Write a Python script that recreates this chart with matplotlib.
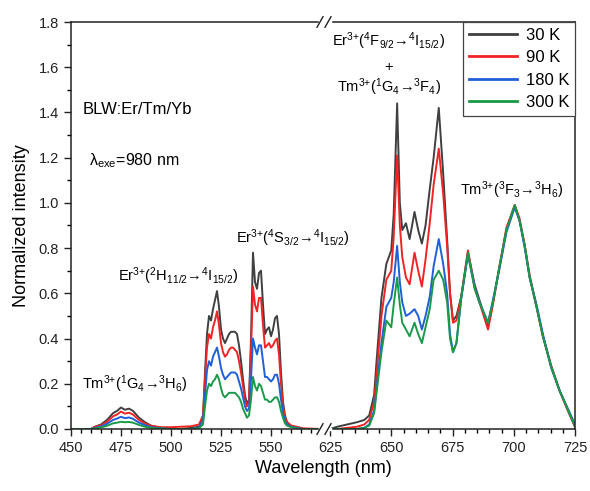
import numpy as np
import matplotlib
matplotlib.use("Agg")
import matplotlib.pyplot as plt
from matplotlib.ticker import FixedLocator, FormatStrFormatter

plt.rcParams["font.family"] = ["Liberation Sans", "DejaVu Sans"]
plt.rcParams["mathtext.fontset"] = "custom"
plt.rcParams["mathtext.rm"] = "Liberation Sans"
plt.rcParams["mathtext.it"] = "Liberation Sans:italic"

# upconversion emission, normalised to the 700 nm band
wl = [450, 460, 462, 465, 468, 471, 473, 475, 477, 479, 481, 484, 487, 490, 495, 500,
      505, 510, 514, 516, 517, 518, 519, 520, 521, 522, 523, 524, 525, 526, 527, 528,
      529, 530, 531, 532, 533, 534, 535, 536, 537, 538, 539, 540, 541, 542, 543, 544,
      545, 546, 547, 548, 549, 550, 551, 552, 553, 554, 555, 556, 557, 558, 560, 563,
      566, 575, 600, 625, 628, 632, 636, 639, 641, 643, 644, 646, 648, 650, 651, 652.4,
      653.5, 654.5, 656, 657.5, 659.5, 661, 662.5, 664, 665.7, 667.3, 669.4, 671.2,
      672.8, 674, 675.2, 676.6, 678.6, 681.3, 684, 686, 689.5, 691.5, 694.2, 697,
      700.4, 702.4, 704.5, 706.5, 709.3, 711.9, 715.3, 718.7, 722.1, 725]

k30 = [0, 0, 0.01, 0.02, 0.04, 0.07, 0.08, 0.095, 0.085, 0.09, 0.08, 0.05, 0.03, 0.015, 0.005, 0,
       0, 0.005, 0.01, 0.05, 0.25, 0.42, 0.50, 0.48, 0.53, 0.57, 0.61, 0.54, 0.44, 0.40, 0.38, 0.40,
       0.42, 0.43, 0.43, 0.43, 0.42, 0.37, 0.30, 0.22, 0.15, 0.11, 0.13, 0.40, 0.78, 0.65, 0.62, 0.69,
       0.70, 0.55, 0.42, 0.44, 0.45, 0.41, 0.44, 0.49, 0.50, 0.42, 0.25, 0.12, 0.06, 0.03, 0.015, 0.005,
       0, 0, 0, 0, 0.01, 0.02, 0.03, 0.04, 0.06, 0.15, 0.30, 0.58, 0.73, 0.79, 0.95, 1.44,
       1.00, 0.88, 0.91, 0.84, 0.96, 0.88, 0.82, 0.90, 1.06, 1.20, 1.42, 1.13,
       0.84, 0.60, 0.48, 0.50, 0.585, 0.78, 0.64, 0.57, 0.45, 0.56, 0.72, 0.88,
       0.99, 0.92, 0.81, 0.67, 0.54, 0.41, 0.275, 0.17, 0.085, 0.01]

k90 = [0, 0, 0.01, 0.016, 0.032, 0.056, 0.064, 0.077, 0.068, 0.072, 0.064, 0.04, 0.024, 0.014, 0.008, 0.008,
       0.01, 0.012, 0.02, 0.06, 0.22, 0.36, 0.42, 0.40, 0.45, 0.48, 0.52, 0.46, 0.38, 0.34, 0.32, 0.33,
       0.35, 0.36, 0.36, 0.35, 0.34, 0.30, 0.25, 0.19, 0.13, 0.10, 0.12, 0.35, 0.63, 0.55, 0.52, 0.58,
       0.58, 0.46, 0.36, 0.37, 0.38, 0.36, 0.37, 0.39, 0.40, 0.33, 0.20, 0.10, 0.05, 0.03, 0.015, 0.01,
       0.003, 0, 0, 0, 0, 0.005, 0.01, 0.02, 0.04, 0.12, 0.24, 0.50, 0.66, 0.70, 0.85, 1.21,
       0.90, 0.76, 0.67, 0.64, 0.78, 0.70, 0.63, 0.75, 0.91, 1.08, 1.24, 1.04,
       0.81, 0.60, 0.47, 0.48, 0.59, 0.79, 0.63, 0.56, 0.44, 0.55, 0.72, 0.89,
       0.99, 0.93, 0.81, 0.68, 0.54, 0.41, 0.28, 0.17, 0.08, 0.01]

k180 = [0, 0, 0.005, 0.011, 0.023, 0.04, 0.046, 0.054, 0.048, 0.051, 0.045, 0.028, 0.017, 0.008, 0.003, 0,
        0, 0, 0.005, 0.04, 0.15, 0.26, 0.30, 0.28, 0.32, 0.34, 0.36, 0.32, 0.27, 0.24, 0.22, 0.23,
        0.24, 0.25, 0.25, 0.25, 0.24, 0.21, 0.18, 0.14, 0.10, 0.08, 0.09, 0.22, 0.40, 0.36, 0.33, 0.37,
        0.37, 0.30, 0.23, 0.23, 0.22, 0.21, 0.22, 0.24, 0.24, 0.20, 0.13, 0.07, 0.035, 0.02, 0.01, 0.005,
        0, 0, 0, 0, 0, 0, 0, 0.005, 0.02, 0.08, 0.18, 0.38, 0.54, 0.58, 0.65, 0.81,
        0.65, 0.56, 0.50, 0.51, 0.53, 0.50, 0.44, 0.50, 0.585, 0.72, 0.84, 0.73,
        0.60, 0.42, 0.34, 0.38, 0.58, 0.77, 0.63, 0.56, 0.47, 0.57, 0.71, 0.87,
        0.98, 0.92, 0.80, 0.67, 0.55, 0.42, 0.27, 0.17, 0.09, 0.02]

k300 = [0, 0, 0.003, 0.007, 0.014, 0.025, 0.028, 0.032, 0.03, 0.031, 0.028, 0.018, 0.01, 0.005, 0.002, 0,
        0, 0, 0.003, 0.02, 0.10, 0.17, 0.20, 0.19, 0.21, 0.22, 0.24, 0.22, 0.18, 0.15, 0.14, 0.15,
        0.16, 0.16, 0.16, 0.16, 0.15, 0.14, 0.12, 0.09, 0.07, 0.05, 0.06, 0.13, 0.23, 0.19, 0.17, 0.20,
        0.19, 0.16, 0.13, 0.13, 0.12, 0.12, 0.13, 0.14, 0.14, 0.12, 0.08, 0.05, 0.025, 0.015, 0.008, 0.003,
        0, 0, 0, 0, 0, 0, 0, 0.005, 0.015, 0.07, 0.16, 0.34, 0.48, 0.45, 0.55, 0.67,
        0.55, 0.47, 0.44, 0.41, 0.47, 0.42, 0.38, 0.45, 0.53, 0.66, 0.70, 0.66,
        0.56, 0.40, 0.34, 0.38, 0.585, 0.78, 0.62, 0.56, 0.47, 0.56, 0.72, 0.88,
        0.99, 0.92, 0.81, 0.67, 0.54, 0.41, 0.275, 0.17, 0.085, 0.01]

temps = ["30 K", "90 K", "180 K", "300 K"]
colors = ["#404040", "#f02424", "#1f5fd8", "#1a9a48"]

major_ticks = [450, 475, 500, 525, 550, 625, 650, 675, 700, 725]
minor_ticks = [x for x in list(range(455, 575, 5)) + list(range(630, 725, 5)) if x % 25]


# broken wavelength axis: 450-575 and 625-725, with the gap squeezed
def fwd(x):
    x = np.asarray(x, dtype=float)
    return np.where(x <= 575, (x - 450) * 2.0,
                    np.where(x < 625, 250 + (x - 575) * 0.18, 259 + (x - 625) * 2.45))


def inv(u):
    u = np.asarray(u, dtype=float)
    return np.where(u <= 250, 450 + u / 2.0,
                    np.where(u < 259, 575 + (u - 250) / 0.18, 625 + (u - 259) / 2.45))


fig = plt.figure(figsize=(5.9, 4.91), dpi=100)
ax = fig.add_axes([71 / 590, 62 / 491, 504 / 590, 407 / 491])
ax.set_xscale("function", functions=(fwd, inv))

for vals, lab, c in zip([k30, k90, k180, k300], temps, colors):
    ax.plot(wl, vals, color=c, lw=1.4, label=lab)

ax.set_xlim(450, 725)
ax.set_ylim(0, 1.8)
ax.xaxis.set_major_locator(FixedLocator(major_ticks))
ax.xaxis.set_minor_locator(FixedLocator(minor_ticks))
ax.set_xticklabels([str(t) for t in major_ticks])
ax.set_yticks(np.arange(0, 1.81, 0.2))
ax.set_yticks(np.arange(0.1, 1.8, 0.2), minor=True)
ax.yaxis.set_major_formatter(FormatStrFormatter("%.1f"))
ax.tick_params(which="major", direction="out", length=5, width=1, labelsize=10.5, colors="#222222")
ax.tick_params(which="minor", direction="out", length=3, width=1)
for s in ax.spines.values():
    s.set_linewidth(1.1)
    s.set_color("#222222")

ax.set_xlabel("Wavelength (nm)", fontsize=13, labelpad=4)
ax.set_ylabel("Normalized intensity", fontsize=13, labelpad=6)

# break marks on the top and bottom axis lines
tr = ax.get_xaxis_transform()
for yb in (0, 1):
    ax.plot([inv(249), inv(259)], [yb, yb], color="white", lw=2.5, transform=tr,
            clip_on=False, zorder=5)
    for uc in (249, 257):
        ax.plot([inv(uc - 3), inv(uc + 3)], [yb - 0.013, yb + 0.013], color="#222222", lw=1,
                transform=tr, clip_on=False, zorder=6)

leg = ax.legend(loc="upper right", bbox_to_anchor=(1.0, 1.0), borderaxespad=0,
                fontsize=12, handlelength=2.9, labelspacing=0.45, fancybox=False,
                framealpha=1, borderpad=0.35, handletextpad=0.5)
leg.get_frame().set_edgecolor("#444444")
leg.get_frame().set_linewidth(0.9)
for h in leg.get_lines():
    h.set_linewidth(2)

ax.text(100, 1.67, "(a)", fontsize=11.5, ha="left", va="center")
ax.text(456, 1.415, "BLW:Er/Tm/Yb", fontsize=12, ha="left", va="center")
ax.text(459, 1.185, "λ$_\\mathrm{exe}$=980 nm", fontsize=11.5, ha="left", va="center")

ann = dict(fontsize=10.5, ha="center", va="center")
ax.text(482, 0.20, "Tm$^{3{+}}$($^1$G$_4$→$^3$H$_6$)", **ann)
ax.text(503.5, 0.675, "Er$^{3{+}}$($^2$H$_{11/2}$→$^4$I$_{15/2}$)", **ann)
ax.text(561, 0.845, "Er$^{3{+}}$($^4$S$_{3/2}$→$^4$I$_{15/2}$)", **ann)
ax.text(649, 1.715, "Er$^{3{+}}$($^4$F$_{9/2}$→$^4$I$_{15/2}$)", **ann)
ax.text(649, 1.60, "+", **ann)
ax.text(649, 1.51, "Tm$^{3{+}}$($^1$G$_4$→$^3$F$_4$)", **ann)
ax.text(699, 1.055, "Tm$^{3{+}}$($^3$F$_3$→$^3$H$_6$)", **ann)

fig.savefig("out.png", dpi=100)
